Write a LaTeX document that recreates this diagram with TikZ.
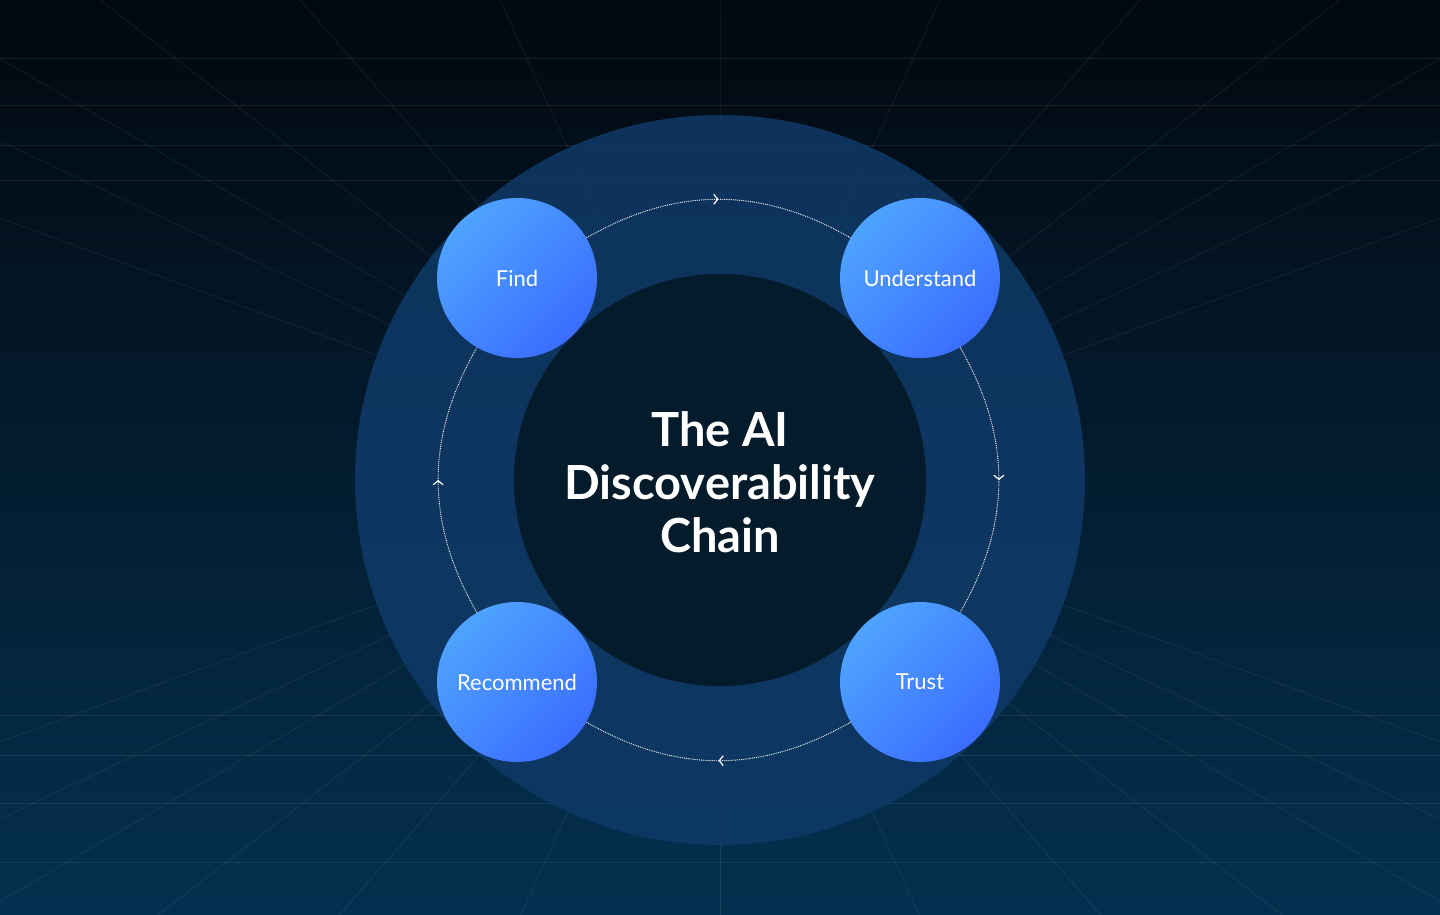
\documentclass[tikz,border=0pt]{standalone}
\usepackage{fontspec}
\setmainfont{Lato}
\usetikzlibrary{arrows.meta, decorations.markings}
\definecolor{bgtop}{HTML}{02080F}
\definecolor{bgbot}{HTML}{04304F}
\definecolor{ringblue}{HTML}{0F3A68}
\definecolor{coreblue}{HTML}{041B2C}
\definecolor{nodelight}{HTML}{4FA3FF}
\definecolor{nodedark}{HTML}{3A6DFF}
\begin{document}
\begin{tikzpicture}[x=1pt, y=-1pt,
    stage/.style={circle, minimum size=160pt, inner sep=0pt,
      top color=nodelight, bottom color=nodedark, shading angle=45,
      text=white, font=\fontsize{22}{24}\selectfont},
    flow/.style={white, densely dotted, line width=0.9pt,
      postaction={decorate}, decoration={markings,
        mark=at position 0.5 with {\arrow[solid, white, line width=1.2pt]{Straight Barb[length=4pt, width=10pt]}}}},
    grid/.style={white, opacity=0.08, line width=0.7pt}
  ]
  % Background
  \shade[top color=bgtop, bottom color=bgbot] (0,0) rectangle (1440,915);
  \useasboundingbox (0,0) rectangle (1440,915);
  % Perspective grid
  \foreach \x in {-600,-300,-100,100,300,500,720,940,1140,1340,1540,1740,2040}
    \draw[grid] (\x,0) -- (720,480) -- (1440-\x,960);
  \foreach \y in {58,105,145,180}
    \draw[grid] (0,\y) -- (1440,\y);
  \foreach \y in {715,755,803,862}
    \draw[grid] (0,\y) -- (1440,\y);
  % Ring
  \fill[ringblue, opacity=0.85] (720,480) circle[radius=365];
  \fill[coreblue] (720,480) circle[radius=206];
  % Stages
  \node[stage] (find) at (517,278) {Find};
  \node[stage] (understand) at (920,278) {Understand};
  \node[stage] (trust) at (920,682) {Trust};
  \node[stage] (recommend) at (517,682) {Recommend};
  % Flow
  \draw[flow] (find) to[out=30, in=150] (understand);
  \draw[flow] (understand) to[out=-60, in=60] (trust);
  \draw[flow] (trust) to[out=-150, in=-30] (recommend);
  \draw[flow] (recommend) to[out=120, in=-120] (find);
  % Title
  \node[text=white, align=center, font=\fontsize{47}{53}\selectfont\bfseries] (title) at (720,482)
    {The AI\\Discoverability\\Chain};
\end{tikzpicture}
\end{document}
